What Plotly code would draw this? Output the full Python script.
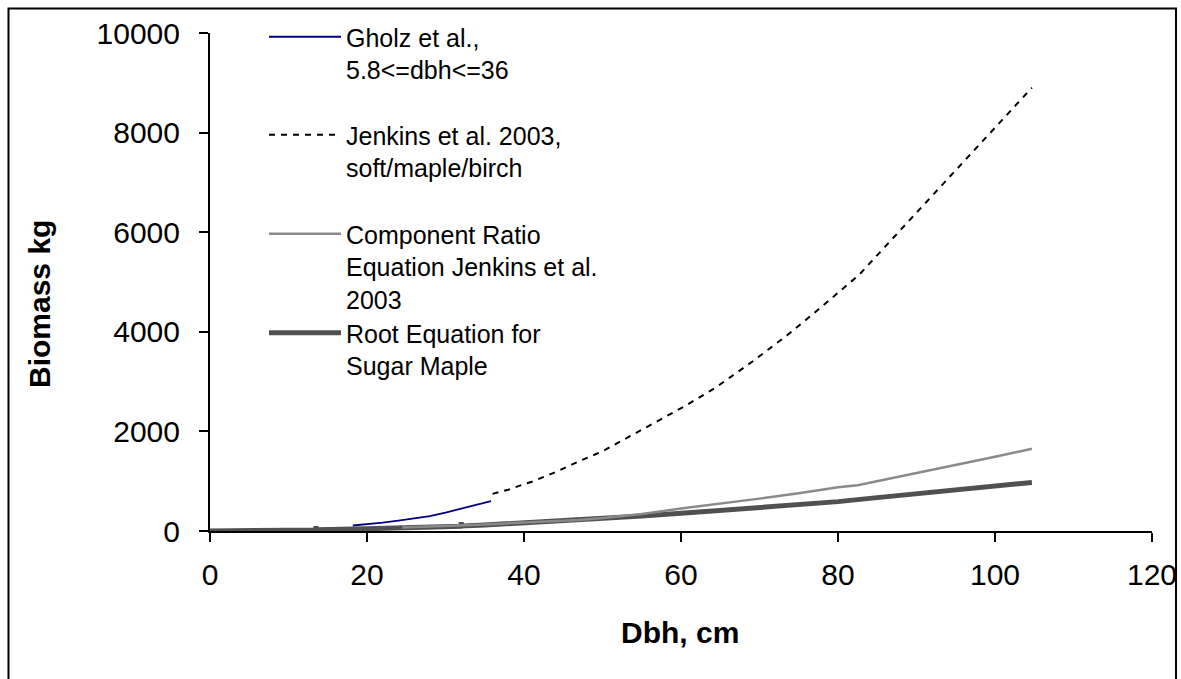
import plotly.graph_objects as go

# ---------------- data ----------------
gholz_dbh = [18.2, 20, 22, 24, 26, 28, 30, 32, 34, 35.8]
gholz_kg = [110, 135, 170, 210, 250, 300, 370, 445, 520, 600]

jenk_dbh = [36, 38, 40, 41, 44, 47, 50, 53.4, 57, 60.4, 64.3, 69.1, 73.6, 77.2,
            82.7, 87, 91.4, 94.6, 98.8, 104.2, 104.7]
jenk_kg = [745, 830, 940, 990, 1180, 1400, 1600, 1895, 2200, 2500, 2868, 3403,
           3940, 4408, 5146, 5883, 6620, 7190, 7893, 8830, 8900]

comp_dbh = [24.5, 30, 35, 40, 47, 50, 55, 60, 65, 70, 75, 80, 82.5, 90, 95, 100, 104.7]
comp_kg = [70, 100, 130, 170, 221, 260, 340, 450, 545, 650, 760, 880, 920, 1160, 1330, 1490, 1650]

root_dbh = [0, 5, 10, 13.4, 13.5, 13.6, 20, 25, 30, 31.9, 32, 32.1, 35, 40, 45, 50,
            55, 60, 65, 70, 75, 80, 85, 90, 95, 100, 104.7]
root_kg = [0, 3, 10, 20, 90, 25, 45, 65, 90, 95, 170, 100, 120, 160, 205, 250,
           300, 355, 410, 470, 530, 590, 670, 750, 830, 900, 975]

legend_names = [
    " <br>Gholz et al.,<br>5.8&lt;=dbh&lt;=36",
    " <br>Jenkins et al. 2003,<br>soft/maple/birch",
    " <br> <br>Component Ratio<br>Equation Jenkins et al.<br>2003",
    " <br>Root Equation for<br>Sugar Maple",
]

x_ticks = [0, 20, 40, 60, 80, 100, 120]
y_ticks = [0, 2000, 4000, 6000, 8000, 10000]
y_tick_text = ["0", "2000", "4000", "6000", "8000", "10000"]

# ---------------- layout geometry (pixels) ----------------
W, H = 1181, 679
ML, MR, MT, MB = 210, 29, 33, 148
PW, PH = W - ML - MR, H - MT - MB


def px(xp):
    return (xp - ML) / PW


def py(yp):
    return (H - MB - yp) / PH


FONT = "Arial, 'Liberation Sans', sans-serif"

fig = go.Figure()
fig.add_trace(go.Scatter(x=root_dbh, y=root_kg, mode="lines", name=legend_names[3],
                         line=dict(color="#505050", width=5), cliponaxis=False,
                         legend="legend4"))
fig.add_trace(go.Scatter(x=comp_dbh, y=comp_kg, mode="lines", name=legend_names[2],
                         line=dict(color="#8a8a8a", width=2.5), cliponaxis=False,
                         legend="legend3"))
fig.add_trace(go.Scatter(x=jenk_dbh, y=jenk_kg, mode="lines", name=legend_names[1],
                         line=dict(color="black", width=2, dash="6px,6px"), cliponaxis=False,
                         legend="legend2"))
fig.add_trace(go.Scatter(x=gholz_dbh, y=gholz_kg, mode="lines", name=legend_names[0],
                         line=dict(color="#000080", width=1.8), cliponaxis=False,
                         legend="legend"))

leg_common = dict(font=dict(family=FONT, size=25, color="black"), bgcolor="rgba(0,0,0,0)",
                  borderwidth=0, itemwidth=72, xanchor="left", yanchor="middle",
                  x=px(264), tracegroupgap=0)
fig.update_layout(
    legend=dict(**leg_common, y=py(37)),
    legend2=dict(**leg_common, y=py(135)),
    legend3=dict(**leg_common, y=py(234)),
    legend4=dict(**leg_common, y=py(333)),
)

fig.update_layout(
    width=W, height=H,
    margin=dict(l=ML, r=MR, t=MT, b=MB, pad=0, autoexpand=False),
    paper_bgcolor="white", plot_bgcolor="white",
    showlegend=True,
    font=dict(family=FONT, color="black"),
    xaxis=dict(range=[0, 120], tickvals=x_ticks, showgrid=False, zeroline=False,
               showline=True, linecolor="black", linewidth=2,
               ticks="outside", ticklen=9, tickwidth=2, tickcolor="black",
               tickfont=dict(family=FONT, size=30, color="black"), ticklabelstandoff=7),
    yaxis=dict(range=[0, 10000], tickvals=y_ticks, ticktext=y_tick_text,
               showgrid=False, zeroline=False,
               showline=True, linecolor="black", linewidth=2,
               ticks="outside", ticklen=9, tickwidth=2, tickcolor="black",
               tickfont=dict(family=FONT, size=30, color="black"), ticklabelstandoff=13),
    annotations=[
        dict(text="<b>Dbh, cm</b>", xref="paper", yref="paper", x=px(680), y=py(632),
             showarrow=False, xanchor="center", yanchor="middle",
             font=dict(family=FONT, size=30, color="black")),
        dict(text="<b>Biomass kg</b>", xref="paper", yref="paper", x=px(39), y=py(304),
             showarrow=False, xanchor="center", yanchor="middle", textangle=-90,
             font=dict(family=FONT, size=30, color="black")),
    ],
    shapes=[
        dict(type="rect", xref="paper", yref="paper", x0=px(8.5), x1=px(1176),
             y0=py(700), y1=py(8.5), line=dict(color="black", width=2),
             fillcolor="rgba(0,0,0,0)", layer="below"),
    ],
)

fig.write_html("out.html")
